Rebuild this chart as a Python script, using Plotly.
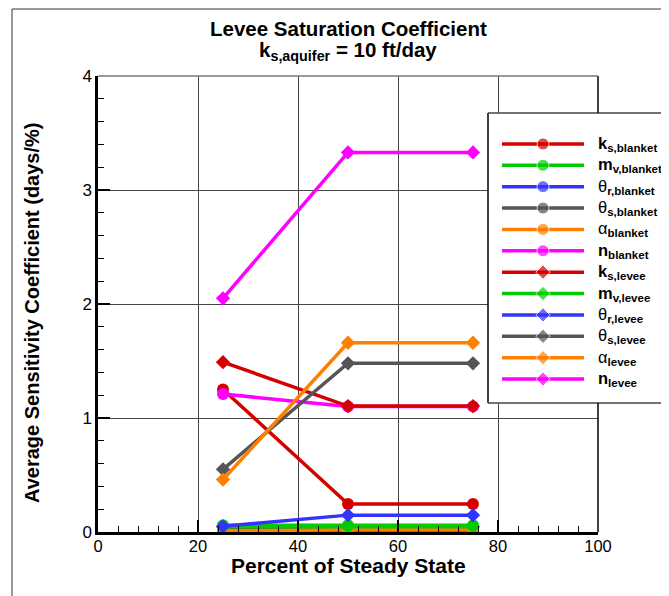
import plotly.graph_objects as go

# ---------------- data ----------------
x_percent = [25, 50, 75]

series_names = [
    "ks_blanket", "mv_blanket", "thr_blanket", "ths_blanket", "alpha_blanket", "n_blanket",
    "ks_levee", "mv_levee", "thr_levee", "ths_levee", "alpha_levee", "n_levee",
]
series_labels = [
    "<b>k</b><sub><b>s,blanket</b></sub>",
    "<b>m</b><sub><b>v,blanket</b></sub>",
    "θ<sub><b>r,blanket</b></sub>",
    "θ<sub><b>s,blanket</b></sub>",
    "α<sub><b>blanket</b></sub>",
    "<b>n</b><sub><b>blanket</b></sub>",
    "<b>k</b><sub><b>s,levee</b></sub>",
    "<b>m</b><sub><b>v,levee</b></sub>",
    "θ<sub><b>r,levee</b></sub>",
    "θ<sub><b>s,levee</b></sub>",
    "α<sub><b>levee</b></sub>",
    "<b>n</b><sub><b>levee</b></sub>",
]
ks_blanket = [1.25, 0.245, 0.245]
mv_blanket = [0.06, 0.06, 0.06]
thr_blanket = [0.0, 0.0, 0.0]
ths_blanket = [0.02, 0.03, 0.03]
alpha_blanket = [0.01, 0.02, 0.02]
n_blanket = [1.21, 1.10, 1.10]
ks_levee = [1.49, 1.105, 1.105]
mv_levee = [0.045, 0.045, 0.045]
thr_levee = [0.05, 0.148, 0.148]
ths_levee = [0.55, 1.48, 1.48]
alpha_levee = [0.46, 1.66, 1.66]
n_levee = [2.05, 3.33, 3.33]
series_values = [ks_blanket, mv_blanket, thr_blanket, ths_blanket, alpha_blanket, n_blanket,
                 ks_levee, mv_levee, thr_levee, ths_levee, alpha_levee, n_levee]

x_ticks = [0, 20, 40, 60, 80, 100]
y_ticks = [0, 1, 2, 3, 4]

# ---------------- styles ----------------
base_colors = ["#d40000", "#00cc00", "#3333ff", "#555555", "#ff8000", "#ff00ff"]
colors = base_colors + base_colors
symbols = ["circle"] * 6 + ["diamond"] * 6
msizes = [12] * 6 + [11] * 6

FONT = "Liberation Sans, Arial, Helvetica, sans-serif"

# page body has an 8px default margin; size figure so plot area lands where the reference has it
fig = go.Figure()

for name, vals, c, s, ms in zip(series_names, series_values, colors, symbols, msizes):
    fig.add_trace(go.Scatter(
        x=x_percent, y=vals, mode="lines+markers", name=name, showlegend=False,
        line=dict(color=c, width=3.5), marker=dict(color=c, symbol=s, size=ms),
        xaxis="x", yaxis="y",
    ))

# custom legend samples (drawn on an auxiliary invisible axis pair)
for i, (label, c, s, ms) in enumerate(zip(series_labels, colors, symbols, msizes)):
    fig.add_trace(go.Scatter(
        x=[0, 0.5, 1], y=[i, i, i], mode="lines+markers", showlegend=False,
        line=dict(color=c, width=3.5), marker=dict(color=c, symbol=s, size=[0, ms, 0]),
        xaxis="x2", yaxis="y2", hoverinfo="skip",
    ))
    fig.add_annotation(
        x=0.996, xref="paper", y=i, yref="y2", text=label, showarrow=False,
        xanchor="left", yanchor="middle", font=dict(size=16.5, color="black", family=FONT),
    )

LB_X0, LB_Y0, LB_Y1 = 0.78, 0.283, 0.919

shapes = [
    # white legend box covering grid lines inside plot
    dict(type="rect", xref="x", yref="y", x0=78, x1=110, y0=1.13, y1=3.675,
         fillcolor="white", line=dict(width=0), layer="between"),
    # legend box border
    dict(type="line", xref="paper", yref="paper", x0=LB_X0, x1=LB_X0, y0=LB_Y0, y1=LB_Y1,
         line=dict(color="black", width=1.5), layer="above"),
    dict(type="line", xref="paper", yref="paper", x0=LB_X0, x1=1.2, y0=LB_Y1, y1=LB_Y1,
         line=dict(color="#444444", width=1.5), layer="above"),
    dict(type="line", xref="paper", yref="paper", x0=LB_X0, x1=1.2, y0=LB_Y0, y1=LB_Y0,
         line=dict(color="#444444", width=1.5), layer="above"),
    # right plot border (outside legend box)
    dict(type="line", xref="paper", yref="paper", x0=1, x1=1, y0=0, y1=LB_Y0,
         line=dict(color="black", width=1.5), layer="above"),
    dict(type="line", xref="paper", yref="paper", x0=1, x1=1, y0=LB_Y1, y1=1,
         line=dict(color="black", width=1.5), layer="above"),
    # top border of plot
    dict(type="line", xref="paper", yref="paper", x0=0, x1=1, y0=1, y1=1,
         line=dict(color="#777777", width=1.5), layer="above"),
    # outer frame
    dict(type="line", xref="paper", yref="paper", x0=-0.172, x1=-0.172, y0=1.147, y1=-0.2,
         line=dict(color="#333333", width=1), layer="above"),
    dict(type="line", xref="paper", yref="paper", x0=-0.172, x1=1.2, y0=1.147, y1=1.147,
         line=dict(color="#777777", width=1.5), layer="above"),
]

fig.update_layout(
    width=661, height=588,
    margin=dict(l=90, r=71, t=68, b=64),
    paper_bgcolor="white", plot_bgcolor="white",
    font=dict(family=FONT, color="black", size=17),
    shapes=shapes,
    xaxis=dict(
        domain=[0, 1], range=[0, 100], tickvals=x_ticks, ticktext=[str(v) for v in x_ticks],
        ticks="inside", ticklen=12, tickwidth=2, tickcolor="black",
        showline=True, linecolor="black", linewidth=2.5,
        showgrid=True, gridcolor="#444444", gridwidth=1, zeroline=False,
        minor=dict(dtick=4, tick0=0, ticks="inside", ticklen=6, tickwidth=1, tickcolor="black", showgrid=False),
        tickfont=dict(size=16.5), anchor="y", ticklabelstandoff=-3,
    ),
    yaxis=dict(
        domain=[0, 1], range=[0, 4], tickvals=y_ticks, ticktext=[str(v) for v in y_ticks],
        ticks="inside", ticklen=12, tickwidth=2, tickcolor="black",
        showline=True, linecolor="black", linewidth=2.5,
        showgrid=True, gridcolor="#444444", gridwidth=1, zeroline=False,
        minor=dict(dtick=0.2, tick0=0, ticks="inside", ticklen=6, tickwidth=1, tickcolor="black", showgrid=False),
        tickfont=dict(size=17), anchor="x",
    ),
    xaxis2=dict(domain=[LB_X0, 1.0], range=[-0.171, 1.171], visible=False, anchor="y2", fixedrange=True),
    yaxis2=dict(domain=[LB_Y0, LB_Y1], range=[12.12, -1.45], visible=False, anchor="x2", fixedrange=True),
)

# titles (plot area: 500 x 456 px)
fig.add_annotation(
    x=0.5, xref="paper", y=(532 - 29) / 456, yref="paper", xanchor="center", yanchor="middle",
    text="<b>Levee Saturation Coefficient</b>",
    showarrow=False, font=dict(size=20.5, family=FONT),
)
fig.add_annotation(
    x=0.5, xref="paper", y=(532 - 51) / 456, yref="paper", xanchor="center", yanchor="middle",
    text="<b>k<sub>s,aquifer</sub> = 10 ft/day</b>",
    showarrow=False, font=dict(size=20.5, family=FONT),
)
fig.add_annotation(
    x=0.5, xref="paper", y=(532 - 565) / 456, yref="paper", xanchor="center", yanchor="middle",
    text="<b>Percent of Steady State</b>", showarrow=False, font=dict(size=21, family=FONT),
)
fig.add_annotation(
    x=(32 - 98) / 500, xref="paper", y=(532 - 313) / 456, yref="paper", xanchor="center", yanchor="middle",
    text="<b>Average Sensitivity Coefficient (days/%)</b>", textangle=-90,
    showarrow=False, font=dict(size=20, family=FONT),
)

fig.write_html("out.html")
